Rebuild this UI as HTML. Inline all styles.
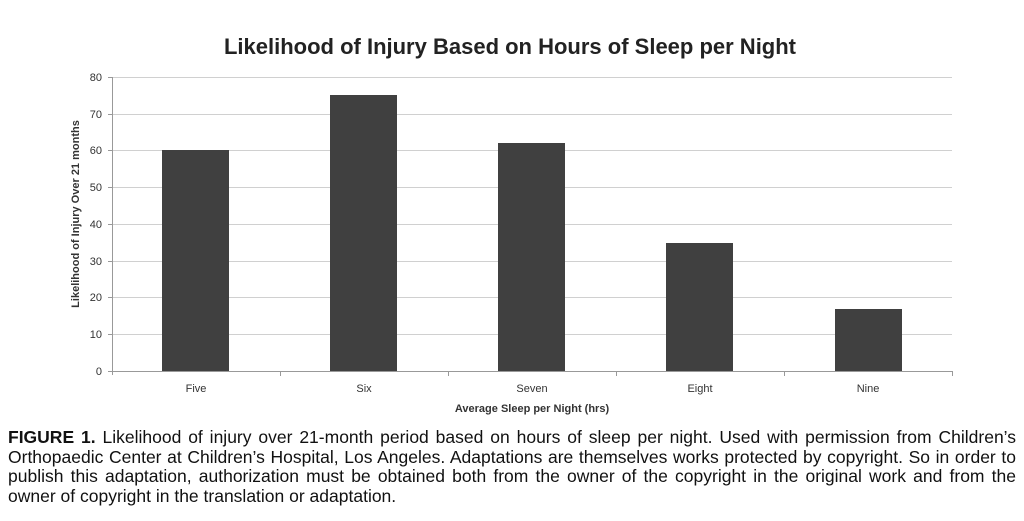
<!DOCTYPE html>
<html><head><meta charset="utf-8"><style>
body{margin:0;width:1024px;height:521px;background:#fff;overflow:hidden;font-family:"Liberation Sans",sans-serif;}
.l{position:absolute;left:8px;width:1008px;font-size:17.5px;line-height:19px;text-align:justify;text-align-last:justify;color:#111;white-space:nowrap;}
</style></head><body>
<svg width="1024" height="420" style="position:absolute;left:0;top:0" font-family="Liberation Sans, sans-serif">
<text x="510" y="54" text-anchor="middle" font-size="22" font-weight="bold" fill="#222">Likelihood of Injury Based on Hours of Sleep per Night</text>
<g stroke="#d0d0d0" stroke-width="1">
<line x1="112" x2="952" y1="77.5" y2="77.5"/><line x1="112" x2="952" y1="114.5" y2="114.5"/>
<line x1="112" x2="952" y1="150.5" y2="150.5"/><line x1="112" x2="952" y1="187.5" y2="187.5"/>
<line x1="112" x2="952" y1="224.5" y2="224.5"/><line x1="112" x2="952" y1="261.5" y2="261.5"/>
<line x1="112" x2="952" y1="297.5" y2="297.5"/><line x1="112" x2="952" y1="334.5" y2="334.5"/>
</g>
<g stroke="#999" stroke-width="1">
<line x1="112.5" x2="112.5" y1="77" y2="375"/><line x1="108" x2="952" y1="371.5" y2="371.5"/>
<line x1="108" x2="112" y1="77.5" y2="77.5"/><line x1="108" x2="112" y1="114.5" y2="114.5"/><line x1="108" x2="112" y1="150.5" y2="150.5"/><line x1="108" x2="112" y1="187.5" y2="187.5"/><line x1="108" x2="112" y1="224.5" y2="224.5"/><line x1="108" x2="112" y1="261.5" y2="261.5"/><line x1="108" x2="112" y1="297.5" y2="297.5"/><line x1="108" x2="112" y1="334.5" y2="334.5"/>
<line x1="280.5" x2="280.5" y1="371" y2="376"/><line x1="448.5" x2="448.5" y1="371" y2="376"/><line x1="616.5" x2="616.5" y1="371" y2="376"/><line x1="784.5" x2="784.5" y1="371" y2="376"/><line x1="952.5" x2="952.5" y1="371" y2="376"/>
</g>
<g fill="#404040">
<rect x="162" y="150" width="67" height="221"/>
<rect x="330" y="95" width="67" height="276"/>
<rect x="498" y="143" width="67" height="228"/>
<rect x="666" y="243" width="67" height="128"/>
<rect x="835" y="309" width="67" height="62"/>
</g>
<g font-size="11" fill="#333" text-anchor="end">
<text x="102" y="81">80</text><text x="102" y="118">70</text><text x="102" y="154">60</text><text x="102" y="191">50</text><text x="102" y="228">40</text><text x="102" y="265">30</text><text x="102" y="301">20</text><text x="102" y="338">10</text><text x="102" y="375">0</text>
</g>
<g font-size="11" fill="#333" text-anchor="middle">
<text x="196" y="392">Five</text><text x="364" y="392">Six</text><text x="532" y="392">Seven</text><text x="700" y="392">Eight</text><text x="868" y="392">Nine</text>
<text x="532" y="412" font-weight="bold">Average Sleep per Night (hrs)</text>
<text transform="translate(79,214) rotate(-90)" font-weight="bold">Likelihood of Injury Over 21 months</text>
</g>
</svg>
<div class="l" style="top:428px"><b>FIGURE 1.</b> Likelihood of injury over 21-month period based on hours of sleep per night. Used with permission from Children’s</div>
<div class="l" style="top:447.5px">Orthopaedic Center at Children’s Hospital, Los Angeles. Adaptations are themselves works protected by copyright. So in order to</div>
<div class="l" style="top:467px">publish this adaptation, authorization must be obtained both from the owner of the copyright in the original work and from the</div>
<div class="l" style="top:486.5px;text-align-last:left">owner of copyright in the translation or adaptation.</div>
</body></html>
